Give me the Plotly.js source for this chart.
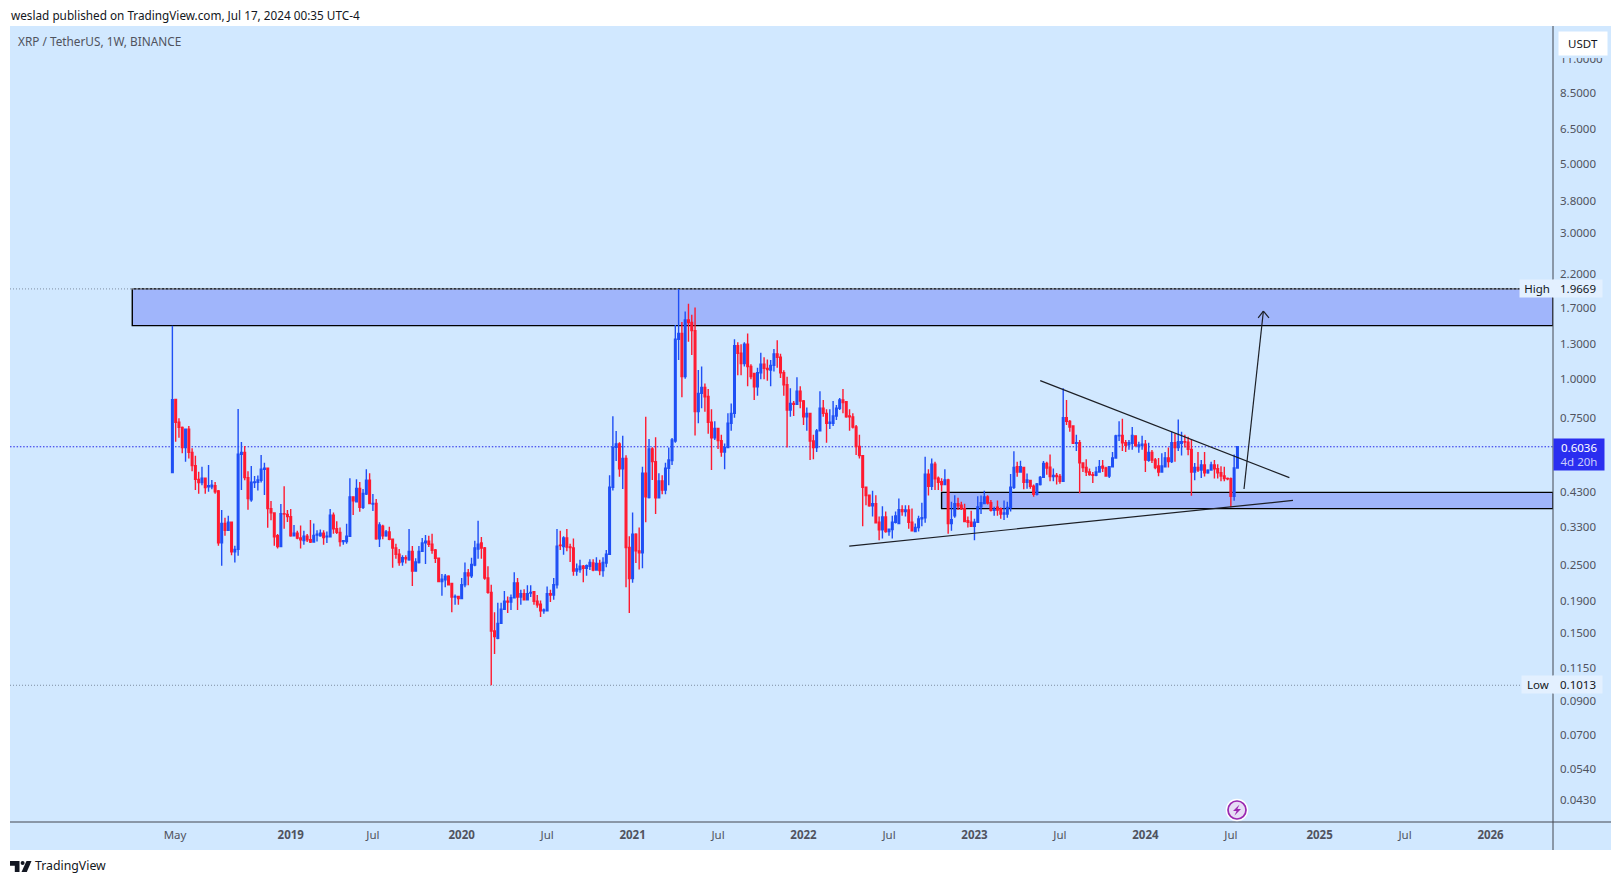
<!DOCTYPE html>
<html>
<head>
<meta charset="utf-8">
<script src="https://cdn.plot.ly/plotly-3.0.1.min.js"></script>
<style>html,body{margin:0;padding:0;background:#fff}#chart{width:1621px;height:885px}</style>
</head>
<body>
<div id="chart"></div>
<script>
const opens = [
.498,.86,.725,.698,.600,.688,.579,.524,.473,.462,
.477,.447,.447,.451,.434,.294,.340,.323,.343,.275,
.280,.571,.579,.479,.406,.462,.463,.470,.510,.514,
.380,.368,.310,.286,.366,.364,.358,.310,.316,.305,
.299,.309,.301,.296,.312,.310,.316,.308,.308,.362,
.327,.318,.297,.297,.309,.415,.400,.442,.384,.424,
.470,.393,.395,.303,.333,.310,.319,.302,.283,.270,
.255,.263,.259,.276,.238,.254,.276,.294,.298,.291,
.279,.262,.220,.223,.229,.217,.196,.197,.194,.215,
.235,.230,.249,.281,.294,.283,.226,.203,.152,.144,
.161,.179,.190,.189,.195,.218,.196,.201,.192,.202,
.204,.190,.186,.177,.177,.201,.199,.215,.289,.286,
.305,.285,.283,.238,.241,.247,.243,.247,.253,.240,
.252,.239,.253,.270,.446,.601,.617,.512,.553,.284,
.225,.314,.277,.273,.495,.413,.594,.540,.412,.467,
.437,.514,.544,.630,1.35,1.41,1.02,1.558,1.53,1.44,
.785,.90,.94,.88,.725,.646,.692,.632,.58,.60,
.72,.775,1.285,1.215,1.125,1.30,1.10,1.045,.945,1.05,
1.12,1.085,1.072,1.11,1.21,1.18,1.05,.96,.795,.835,
.83,.915,.85,.755,.775,.63,.60,.68,.805,.775,
.72,.72,.76,.805,.857,.845,.76,.755,.70,.605,
.565,.446,.42,.388,.394,.343,.324,.357,.32,.325,
.343,.34,.377,.372,.376,.343,.32,.33,.352,.355,
.492,.449,.53,.477,.465,.455,.471,.34,.36,.394,
.39,.38,.347,.343,.333,.343,.385,.395,.415,.397,
.375,.384,.38,.365,.365,.383,.446,.52,.50,.517,
.463,.469,.449,.423,.455,.48,.533,.518,.483,.487,
.483,.466,.75,.73,.705,.62,.622,.535,.517,.50,
.49,.488,.50,.522,.515,.485,.52,.555,.655,.657,
.622,.612,.62,.655,.605,.61,.615,.545,.578,.547,
.523,.50,.52,.555,.54,.622,.60,.62,.627,.625,
.592,.50,.517,.507,.527,.497,.507,.527,.512,.497,
.485,.476,.475,.417,.515];
const highs = [
1.494,.865,.747,.702,.688,.705,.597,.564,.501,.520,
.480,.527,.471,.464,.437,.376,.355,.360,.344,.288,
.801,.626,.607,.503,.523,.485,.487,.568,.536,.514,
.402,.370,.314,.393,.449,.376,.379,.336,.322,.335,
.322,.314,.349,.340,.323,.325,.323,.320,.379,.369,
.346,.330,.299,.339,.477,.415,.473,.464,.440,.510,
.495,.424,.408,.343,.337,.324,.332,.304,.292,.281,
.268,.268,.326,.287,.262,.287,.305,.312,.310,.315,
.281,.262,.233,.233,.231,.217,.200,.197,.226,.254,
.242,.263,.299,.347,.307,.285,.247,.215,.175,.188,
.188,.205,.197,.200,.236,.226,.207,.208,.214,.214,
.205,.199,.191,.180,.212,.207,.226,.326,.322,.309,
.326,.292,.304,.252,.259,.249,.250,.260,.260,.264,
.259,.264,.279,.488,.758,.679,.624,.655,.567,.309,
.369,.316,.33,.520,.755,.640,.602,.648,.495,.488,
.536,.600,.645,1.50,1.9669,1.535,1.66,1.76,1.62,1.71,
1.072,1.10,.97,.93,.80,.73,.692,.66,.618,.775,
.835,1.35,1.32,1.30,1.32,1.41,1.12,1.045,1.09,1.22,
1.18,1.16,1.155,1.255,1.34,1.21,1.07,1.02,.935,.85,
1.015,.95,.857,.81,.775,.66,.69,.915,.857,.80,
.80,.85,.825,.87,.93,.845,.80,.775,.71,.66,
.565,.446,.42,.434,.42,.358,.387,.372,.327,.36,
.372,.41,.39,.39,.39,.38,.34,.36,.397,.56,
.51,.553,.54,.483,.477,.51,.475,.40,.42,.412,
.40,.394,.358,.374,.352,.417,.419,.434,.42,.405,
.385,.404,.383,.404,.40,.492,.584,.54,.544,.52,
.494,.471,.455,.46,.485,.543,.54,.57,.513,.496,
.492,.935,.857,.737,.705,.66,.635,.535,.55,.513,
.50,.52,.547,.547,.52,.52,.58,.66,.73,.745,
.635,.635,.70,.655,.627,.655,.635,.622,.589,.555,
.555,.575,.58,.60,.675,.667,.74,.675,.66,.65,
.64,.535,.58,.547,.58,.51,.54,.547,.53,.522,
.52,.48,.48,.57,.606];
const lows = [
.498,.627,.646,.575,.540,.553,.503,.437,.425,.453,
.425,.431,.439,.425,.288,.248,.310,.323,.268,.254,
.267,.437,.470,.377,.400,.443,.435,.462,.421,.329,
.348,.288,.282,.286,.327,.344,.308,.310,.302,.282,
.290,.296,.294,.296,.297,.308,.290,.294,.308,.315,
.314,.286,.290,.292,.308,.362,.400,.371,.379,.421,
.393,.373,.301,.285,.302,.308,.300,.244,.261,.248,
.248,.252,.257,.213,.237,.252,.276,.251,.285,.271,
.253,.220,.198,.211,.214,.175,.185,.185,.194,.211,
.214,.226,.247,.261,.261,.223,.201,.1013,.128,.143,
.161,.179,.174,.178,.195,.178,.185,.191,.191,.196,
.185,.181,.169,.173,.177,.189,.192,.209,.279,.269,
.276,.255,.230,.230,.235,.219,.230,.240,.238,.240,
.231,.228,.245,.270,.435,.543,.482,.440,.211,.174,
.218,.253,.241,.243,.343,.410,.471,.365,.412,.423,
.423,.453,.527,.622,1.155,.874,1.005,1.325,1.20,.657,
.72,.805,.785,.665,.507,.635,.594,.56,.51,.60,
.68,.75,1.03,1.03,1.10,.95,1.0,.857,.885,1.0,
1.0,.99,.95,1.06,1.09,1.01,.885,.60,.755,.76,
.825,.805,.71,.68,.547,.55,.58,.68,.755,.622,
.69,.705,.737,.795,.775,.75,.68,.692,.568,.553,
.333,.39,.385,.358,.34,.30,.304,.317,.31,.304,
.34,.34,.36,.358,.327,.321,.32,.32,.333,.342,
.419,.437,.437,.437,.432,.455,.315,.322,.355,.376,
.376,.343,.33,.331,.30,.343,.365,.394,.392,.372,
.36,.36,.352,.349,.355,.372,.44,.482,.498,.439,
.441,.441,.415,.419,.452,.478,.49,.466,.466,.455,
.458,.466,.71,.675,.62,.585,.426,.50,.485,.486,
.46,.484,.497,.50,.483,.478,.52,.555,.63,.585,
.58,.59,.59,.605,.577,.59,.50,.54,.535,.51,
.484,.497,.517,.517,.535,.54,.585,.565,.60,.567,
.418,.47,.50,.478,.483,.493,.505,.476,.476,.466,
.466,.47,.384,.403,.515];
const closes = [
.859,.725,.698,.600,.688,.579,.524,.473,.462,.477,
.445,.451,.453,.431,.294,.340,.323,.343,.275,.280,
.571,.579,.479,.410,.463,.464,.471,.510,.514,.380,
.368,.308,.286,.366,.365,.358,.310,.316,.305,.301,
.309,.301,.296,.311,.314,.316,.306,.309,.362,.327,
.318,.297,.299,.309,.415,.403,.442,.384,.426,.470,
.395,.395,.303,.336,.310,.319,.302,.283,.270,.254,
.263,.261,.276,.238,.255,.276,.294,.298,.291,.278,
.262,.220,.224,.229,.215,.196,.197,.194,.215,.235,
.230,.250,.283,.291,.283,.226,.203,.152,.146,.161,
.179,.190,.189,.195,.218,.196,.201,.192,.201,.203,
.190,.185,.177,.178,.201,.199,.215,.287,.288,.305,
.285,.284,.238,.242,.247,.243,.248,.254,.240,.252,
.239,.254,.270,.446,.601,.617,.512,.553,.284,.225,
.314,.277,.273,.495,.415,.594,.540,.412,.467,.437,
.514,.547,.635,1.35,1.41,1.02,1.558,1.53,1.44,.785,
.90,.94,.878,.725,.646,.692,.632,.58,.60,.72,
.775,1.285,1.215,1.125,1.30,1.10,1.02,.945,1.05,1.12,
1.085,1.075,1.11,1.21,1.18,1.05,.96,.795,.835,.83,
.915,.85,.755,.775,.63,.60,.68,.805,.775,.72,
.725,.76,.805,.857,.84,.755,.755,.70,.605,.565,
.446,.419,.388,.394,.342,.324,.357,.32,.326,.343,
.36,.377,.372,.376,.343,.322,.33,.352,.355,.492,
.449,.53,.475,.463,.455,.471,.34,.35,.394,.388,
.38,.345,.343,.333,.343,.385,.397,.415,.396,.375,
.378,.376,.365,.368,.383,.446,.517,.50,.52,.463,
.471,.449,.423,.457,.48,.533,.515,.483,.487,.483,
.466,.75,.73,.70,.62,.622,.535,.517,.50,.49,
.488,.50,.52,.515,.485,.52,.555,.655,.657,.622,
.61,.622,.657,.608,.612,.615,.547,.578,.547,.517,
.50,.523,.555,.54,.622,.60,.627,.627,.625,.592,
.50,.517,.507,.527,.497,.507,.527,.512,.497,.485,
.476,.475,.417,.515,.6036];

const firstWeek = Date.UTC(2018, 3, 30);
const wk = k => new Date(firstWeek + k * 7 * 864e5).toISOString().slice(0, 19).replace('T', ' ');
const dates = opens.map((_, i) => wk(i));

const xTickWeeks = [0.8, 36, 61, 88, 114, 140, 166, 192, 218, 244, 270, 296, 322, 349, 375, 401];
const xTickText = ['May', '<b>2019</b>', 'Jul', '<b>2020</b>', 'Jul', '<b>2021</b>', 'Jul', '<b>2022</b>', 'Jul', '<b>2023</b>', 'Jul', '<b>2024</b>', 'Jul', '<b>2025</b>', 'Jul', '<b>2026</b>'];
const yTicks = [11, 8.5, 6.5, 5, 3.8, 3, 2.2, 1.7, 1.3, 1, 0.75, 0.43, 0.33, 0.25, 0.19, 0.15, 0.115, 0.09, 0.07, 0.054, 0.043];

const high = 1.9669, low = 0.1013, last = 0.6036;
const upperBand = [1.494, 1.9669], lowerBand = [0.380, 0.429];

const BG = '#d1e8ff', BAND = '#a0b5fb', BLUE = '#1f4ff5', RED = '#ff1a30', INK = '#50535e';
const FONT = '"Noto Sans", sans-serif';

const W = 1621, H = 885, L = 10, R = 1553, T = 26, B = 822;
const px = x => (x - L) / (R - L);
const py = y => (B - y) / (B - T);
const pathPx = pts => pts.map((p, i) => (i ? 'L' : 'M') + px(p[0]) + ',' + py(p[1])).join(' ') + ' Z';
const paperRect = (x0, y0, x1, y1, fill, layer) => ({type: 'rect', xref: 'paper', yref: 'paper', x0: px(x0), x1: px(x1), y0: py(y0), y1: py(y1), fillcolor: fill, line: {width: 0}, layer: layer || 'below'});
const paperLine = (x0, y0, x1, y1, color, w) => ({type: 'line', xref: 'paper', yref: 'paper', x0: px(x0), x1: px(x1), y0: py(y0), y1: py(y1), line: {color: color, width: w || 1}, layer: 'above'});
const dataLine = (a, b, c, d, w) => ({type: 'line', xref: 'x', yref: 'y', x0: wk(a), y0: b, x1: wk(c), y1: d, line: {color: '#1c1f26', width: w || 1.2}, layer: 'above'});
const priceLine = (p, x1, color, dash) => ({type: 'line', xref: 'paper', yref: 'y', x0: 0, x1: px(x1), y0: p, y1: p, line: {color: color, width: 1, dash: dash}, layer: 'below'});
const band = (k, v) => ({type: 'rect', xref: 'x', yref: 'y', x0: wk(k), x1: wk(420), y0: v[0], y1: v[1], fillcolor: BAND, line: {color: '#000', width: 1.4}, layer: 'below'});

const shapes = [
  paperRect(10, 26, 1611, 850, BG),
  priceLine(high, 1519, '#7f8ea3', '1px,2px'),
  priceLine(low, 1521, '#7f8ea3', '1px,2px'),
  priceLine(last, 1553, '#2226ea', '1.5px,1.8px'),
  band(-12.2, upperBand),
  band(234, lowerBand),
  {type: 'line', xref: 'x', yref: 'y', x0: wk(-12.2), x1: wk(420), y0: high, y1: high, line: {color: '#e6f0ff', width: 1, dash: '1.5px,2.5px'}, layer: 'below'},
  dataLine(264, 0.99, 339.8, 0.479),
  dataLine(205.9, 0.287, 340.9, 0.404),
  dataLine(326, 0.44, 331.9, 1.667),
  dataLine(330.3, 1.583, 331.9, 1.667),
  dataLine(333.6, 1.583, 331.9, 1.667),
  paperLine(1553, 26, 1553, 850, '#434750', 1),
  paperLine(10, 822, 1611, 822, '#434750', 1),
  // publishing-idea marker
  {type: 'circle', xref: 'paper', yref: 'paper', x0: px(1226.5), x1: px(1247.5), y0: py(799.5), y1: py(820.5), fillcolor: 'rgba(0,0,0,0)', line: {color: '#ffffff', width: 1.5}, layer: 'above'},
  {type: 'circle', xref: 'paper', yref: 'paper', x0: px(1228), x1: px(1246), y0: py(801), y1: py(819), fillcolor: '#e6ddf5', line: {color: '#9c27b0', width: 1.7}, layer: 'above'},
  {type: 'path', xref: 'paper', yref: 'paper', path: pathPx([[1239.5, 804.5], [1233, 811], [1236.6, 811], [1234.5, 815.5], [1241, 809], [1237.4, 809]]), fillcolor: '#9c27b0', line: {width: 0}, layer: 'above'},
  // footer brand mark
  {type: 'path', xref: 'paper', yref: 'paper', path: pathPx([[10, 861], [19.5, 861], [19.5, 872], [14.8, 872], [14.8, 865.8], [10, 865.8]]), fillcolor: '#131722', line: {width: 0}, layer: 'above'},
  {type: 'path', xref: 'paper', yref: 'paper', path: pathPx([[26.5, 861], [31.5, 861], [26.8, 872], [21.5, 872]]), fillcolor: '#131722', line: {width: 0}, layer: 'above'},
  {type: 'circle', xref: 'paper', yref: 'paper', x0: px(20.6), x1: px(24.6), y0: py(861), y1: py(865), fillcolor: '#131722', line: {width: 0}, layer: 'above'}
];

const note = (text, x, y, extra) => Object.assign({text: text, xref: 'paper', yref: 'paper', x: px(x), y: py(y), xanchor: 'left', yanchor: 'middle', showarrow: false, font: {family: FONT, size: 11.5, color: INK}}, extra || {});
const annotations = [
  note('weslad published on TradingView.com, Jul 17, 2024 00:35 UTC-4', 9, 14.5, {font: {family: FONT, size: 11.75, color: '#131722'}}),
  note('XRP / TetherUS, 1W, BINANCE', 16, 41.5, {font: {family: FONT, size: 11.8, color: '#50535e'}}),
  note('TradingView', 33, 865.5, {font: {family: FONT, size: 12.3, color: '#131722'}}),
  note('USDT', 1555.5, 43.5, {width: 49, height: 24, align: 'center', bgcolor: '#ffffff', bordercolor: BG, borderwidth: 2.5, borderpad: 0, font: {family: FONT, size: 11.5, color: '#131722'}}),
  note('High', 1519, 288.5, {width: 34, height: 17, align: 'center', bgcolor: '#e3f0ff', borderpad: 0, font: {family: FONT, size: 11.5, color: '#131722'}}),
  note('1.9669', 1553, 288.5, {width: 48, height: 17, align: 'center', bgcolor: '#e3f0ff', borderpad: 0, font: {family: FONT, size: 11.5, color: '#131722'}}),
  note('Low', 1521, 684.5, {width: 32, height: 17, align: 'center', bgcolor: '#e3f0ff', borderpad: 0, font: {family: FONT, size: 11.5, color: '#131722'}}),
  note('0.1013', 1553, 684.5, {width: 48, height: 17, align: 'center', bgcolor: '#e3f0ff', borderpad: 0, font: {family: FONT, size: 11.5, color: '#131722'}}),
  note('0.6036<br><span style="color:#c9cdfb">4d 20h</span>', 1553, 454.5, {width: 50, height: 31, align: 'center', bgcolor: '#2a2ef0', borderpad: 0, font: {family: FONT, size: 11.5, color: '#ffffff'}})
];

const trace = {
  type: 'candlestick', x: dates, open: opens, high: highs, low: lows, close: closes,
  increasing: {line: {color: BLUE, width: 1.4}, fillcolor: BLUE},
  decreasing: {line: {color: RED, width: 1.4}, fillcolor: RED},
  whiskerwidth: 0, hoverinfo: 'skip', showlegend: false
};

const layout = {
  width: W, height: H, autosize: false,
  margin: {l: L, r: W - R, t: T, b: H - B, pad: 0},
  paper_bgcolor: '#ffffff', plot_bgcolor: BG, showlegend: false,
  font: {family: FONT, size: 11.5, color: INK},
  xaxis: {type: 'date', range: [wk(-49.4), wk(420)], rangeslider: {visible: false}, showgrid: false, zeroline: false, showline: false,
    tickmode: 'array', tickvals: xTickWeeks.map(wk), ticktext: xTickText, ticks: '', ticklabelstandoff: 4, tickangle: 0,
    tickfont: {family: FONT, size: 11.5, color: INK}},
  yaxis: {type: 'log', side: 'right', range: [-1.4387, 1.1482], showgrid: false, zeroline: false, showline: false,
    tickmode: 'array', tickvals: yTicks, ticktext: yTicks.map(v => v.toFixed(4)), ticks: '', ticklabelstandoff: 6,
    tickfont: {family: FONT, size: 11.5, color: INK}},
  shapes: shapes, annotations: annotations
};

Plotly.newPlot('chart', [trace], layout, {staticPlot: true, displayModeBar: false, responsive: false});
</script>
</body>
</html>
